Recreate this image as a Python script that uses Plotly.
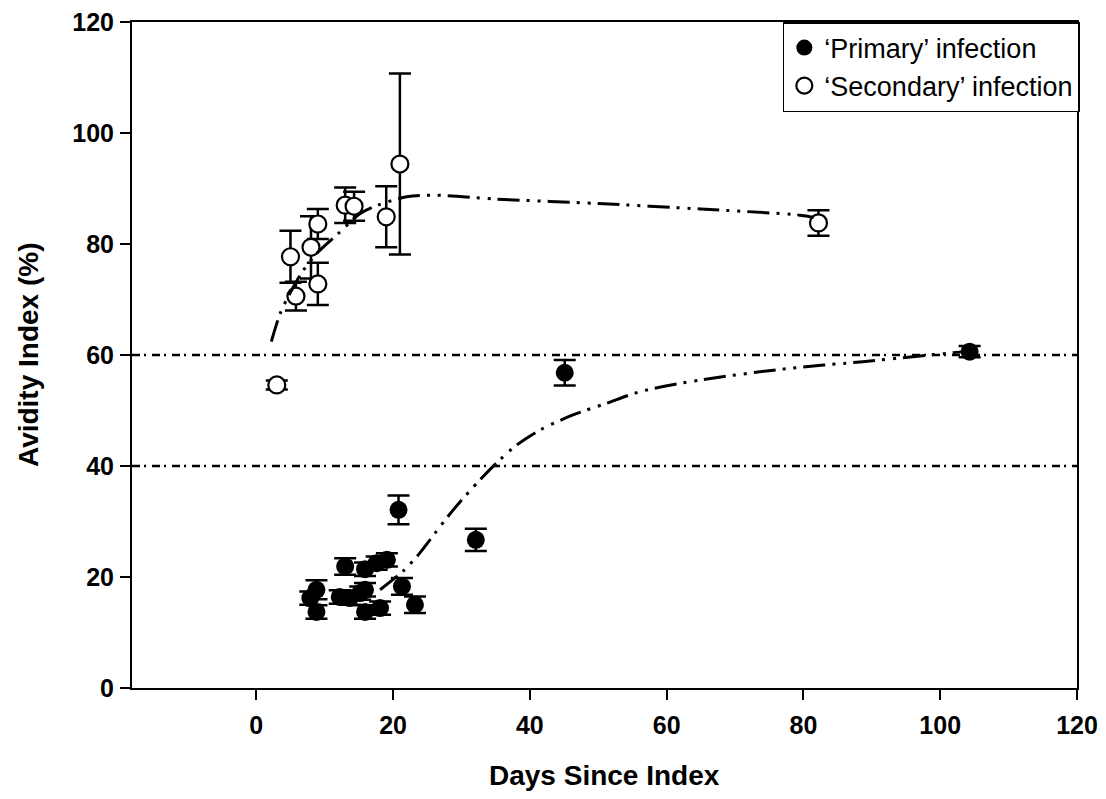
import plotly.graph_objects as go

# Secondary infection (open circles)
sec_x = [3, 5, 5.8, 8, 9, 9, 13, 14.3, 19, 21, 82.2]
sec_y = [54.6, 77.7, 70.6, 79.4, 83.6, 72.8, 87.0, 86.8, 84.9, 94.4, 83.8]
sec_err = [0.8, 4.7, 2.6, 5.6, 2.7, 3.8, 3.2, 2.6, 5.5, 16.3, 2.3]

# Primary infection (filled circles)
prim_x = [20.8, 13.0, 15.9, 17.6, 19.1, 8.8, 7.9, 8.8, 12.2, 13.7, 15.2, 15.9, 15.9, 18.1, 21.3, 23.2, 32.1, 45.1, 104.3]
prim_y = [32.1, 21.9, 21.4, 22.5, 23.1, 17.7, 16.2, 13.7, 16.4, 16.2, 17.1, 17.7, 13.7, 14.4, 18.3, 15.0, 26.7, 56.8, 60.6]
prim_err = [2.6, 1.5, 1.2, 1.2, 1.2, 1.7, 1.2, 1.2, 1.2, 1.2, 1.2, 1.2, 1.2, 1.2, 1.5, 1.5, 2.0, 2.3, 1.0]

# Fitted trend curves
sec_curve_x = [2.2, 3.5, 5, 6.9, 9, 12, 15.2, 17.8, 22, 26, 35, 50, 65, 79.5, 81.5]
sec_curve_y = [62.4, 67.5, 71.3, 75.3, 78.5, 81.9, 85.5, 87.0, 88.5, 88.8, 88.1, 87.3, 86.3, 85.2, 84.8]
prim_curve_x = [18.1, 21.5, 23.9, 25.4, 28.8, 32.7, 35.6, 38.1, 41.5, 46.3, 51.2, 56.1, 64.9, 78, 88.7, 96, 101.9, 104]
prim_curve_y = [17.7, 21.1, 24.3, 26.7, 32.1, 37.5, 41.1, 43.8, 46.5, 49.2, 51.3, 53.4, 55.5, 57.6, 58.8, 59.7, 60.4, 60.7]

# Reference cut-off lines
cutoffs = [40, 60]

x_ticks = [0, 20, 40, 60, 80, 100, 120]
y_ticks = [0, 20, 40, 60, 80, 100, 120]

FONT = "Liberation Sans, Arial, Helvetica, sans-serif"
curve_dash = "22px,7px,3px,8px,3px,7px"

fig = go.Figure()

fig.add_trace(go.Scatter(
    x=prim_x, y=prim_y, mode="markers", name="\u2018Primary\u2019 infection",
    marker=dict(symbol="circle", size=18, color="black", line=dict(width=0)),
    error_y=dict(type="data", array=prim_err, visible=True, color="black", thickness=2.5, width=11),
))
fig.add_trace(go.Scatter(
    x=sec_x, y=sec_y, mode="markers", name="\u2018Secondary\u2019 infection",
    marker=dict(symbol="circle", size=17, color="white", line=dict(width=2.2, color="black")),
    error_y=dict(type="data", array=sec_err, visible=True, color="black", thickness=2.5, width=11),
))
fig.add_trace(go.Scatter(
    x=sec_curve_x, y=sec_curve_y, mode="lines", showlegend=False, hoverinfo="skip",
    line=dict(color="black", width=3, dash=curve_dash, shape="spline", smoothing=0.8),
))
fig.add_trace(go.Scatter(
    x=prim_curve_x, y=prim_curve_y, mode="lines", showlegend=False, hoverinfo="skip",
    line=dict(color="black", width=3, dash=curve_dash, shape="spline", smoothing=0.8),
))

for c in cutoffs:
    fig.add_shape(type="line", xref="paper", x0=0, x1=1, yref="y", y0=c, y1=c,
                  line=dict(color="black", width=2.5, dash="8px,4px,2px,6px"), layer="below")

fig.update_layout(
    width=1098, height=791,
    margin=dict(l=124, r=29, t=14, b=111),
    plot_bgcolor="white", paper_bgcolor="white",
    font=dict(family=FONT, color="black"),
    showlegend=True,
    legend=dict(
        x=1.003, xanchor="right", y=1, yanchor="top",
        bordercolor="black", borderwidth=1.5, bgcolor="white",
        font=dict(family=FONT, size=27, color="black"),
        itemsizing="trace", tracegroupgap=0,
    ),
    xaxis=dict(
        range=[-18.17, 120], tickvals=x_ticks, ticks="outside", ticklen=10, tickwidth=2,
        tickcolor="black", showline=True, linecolor="black", linewidth=2, mirror=True,
        showgrid=False, zeroline=False, ticklabelstandoff=4, automargin=False,
        ticklabeloverflow="allow",
        tickfont=dict(family=FONT, size=25, color="black", weight="bold"),
    ),
    yaxis=dict(
        range=[0, 120], tickvals=y_ticks, ticks="outside", ticklen=10, tickwidth=2,
        tickcolor="black", showline=True, linecolor="black", linewidth=2, mirror=True,
        showgrid=False, zeroline=False, ticklabelstandoff=1, automargin=False,
        ticklabeloverflow="allow",
        tickfont=dict(family=FONT, size=25, color="black", weight="bold"),
    ),
    annotations=[
        dict(text="Days Since Index", xref="paper", yref="paper", x=0.5, y=-0.132,
             xanchor="center", yanchor="middle", showarrow=False,
             font=dict(family=FONT, size=28, color="black", weight="bold")),
        dict(text="Avidity Index (%)", xref="paper", yref="paper", x=-0.110, y=0.5,
             xanchor="center", yanchor="middle", showarrow=False, textangle=-90,
             font=dict(family=FONT, size=28, color="black", weight="bold")),
    ],
)

fig.write_html("out.html")
